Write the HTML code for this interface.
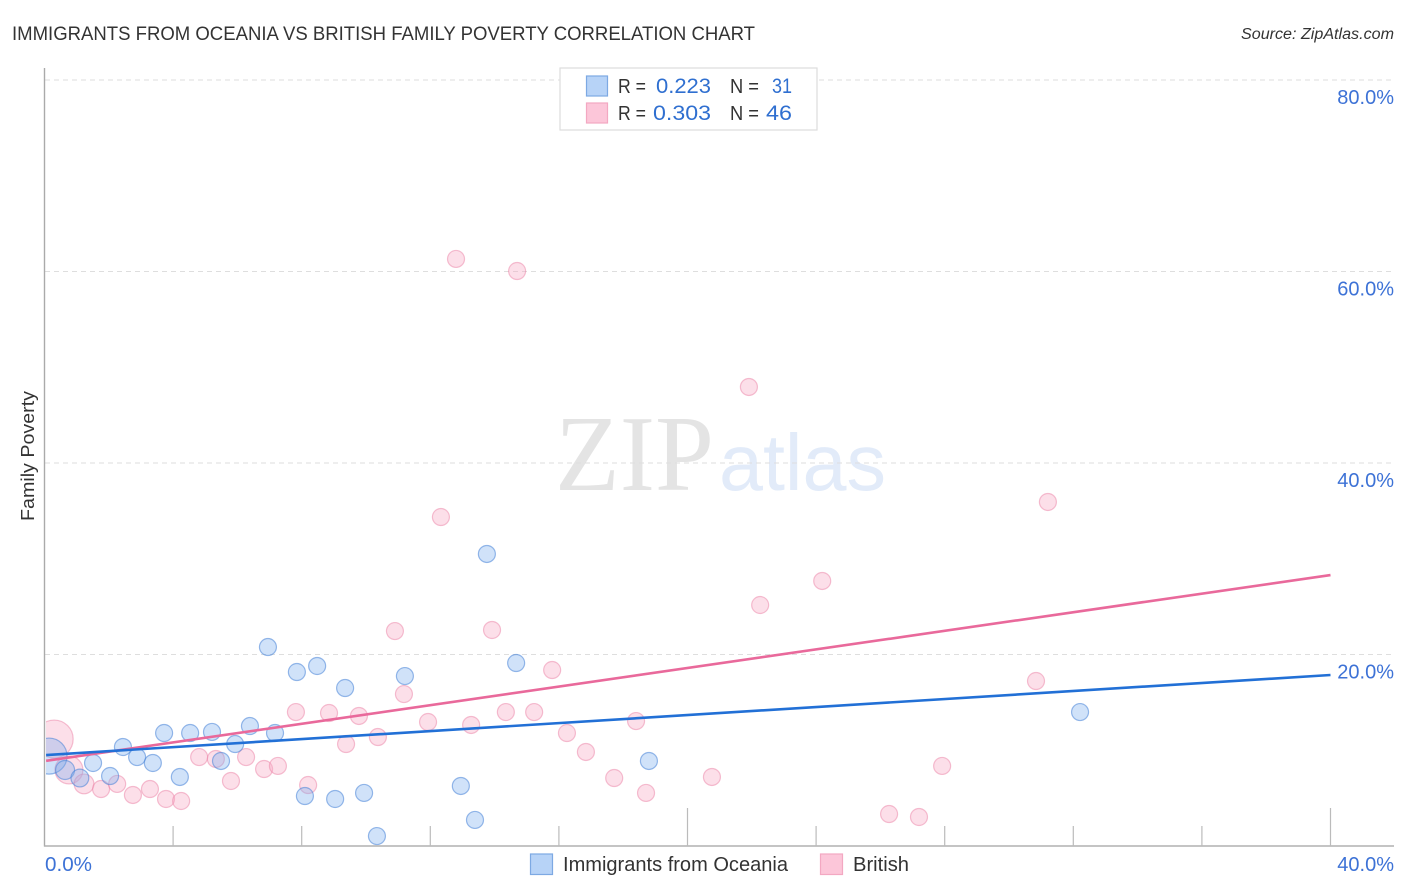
<!DOCTYPE html>
<html lang="en">
<head>
<meta charset="utf-8">
<title>Immigrants from Oceania vs British Family Poverty Correlation Chart</title>
<style>
html,body{margin:0;padding:0;background:#fff;}
svg{display:block;font-family:"Liberation Sans",sans-serif;}
</style>
</head>
<body>
<svg id="chart" xmlns="http://www.w3.org/2000/svg" width="1406" height="892" viewBox="0 0 1406 892">
  <rect x="0" y="0" width="1406" height="892" fill="#ffffff"></rect>
  <text x="12" y="40" font-size="19.5" fill="#333333" textLength="743" lengthAdjust="spacingAndGlyphs">IMMIGRANTS FROM OCEANIA VS BRITISH FAMILY POVERTY CORRELATION CHART</text>
  <text x="1241" y="39" font-size="15.5" font-style="italic" fill="#333333" textLength="153" lengthAdjust="spacingAndGlyphs">Source: ZipAtlas.com</text>
  <text transform="translate(34 521) rotate(-90)" font-size="18.5" fill="#333333" textLength="130" lengthAdjust="spacingAndGlyphs">Family Poverty</text>

  <g>
    <text x="555" y="490" font-family="'Liberation Serif',serif" font-size="108" fill="#e4e4e4" textLength="159" lengthAdjust="spacingAndGlyphs">ZIP</text>
    <text x="719" y="490" font-size="80" fill="#e2ebf9" textLength="167" lengthAdjust="spacingAndGlyphs">atlas</text>
  </g>

  <g id="grid"></g>
  <g id="pink-points"></g>
  <g id="blue-points"></g>
  <rect x="24" y="700" width="22" height="100" fill="#ffffff"></rect>
  <g id="axes"></g>
  <g id="trends"></g>
  <g id="tick-labels"></g>

  <g>
    <rect x="560" y="68" width="257" height="62" fill="#ffffff" stroke="#dddddd" stroke-width="1.2"></rect>
    <rect x="586.5" y="76" width="21" height="20" fill="#b7d3f7" stroke="#7da9e3" stroke-width="1.2"></rect>
    <rect x="586.5" y="103" width="21" height="20" fill="#fcc6d9" stroke="#f3a8c2" stroke-width="1.2"></rect>
    <text x="618" y="93" font-size="20" fill="#333333" textLength="28" lengthAdjust="spacingAndGlyphs">R =</text>
    <text x="656" y="93" font-size="21" fill="#2f6fd0" textLength="55" lengthAdjust="spacingAndGlyphs">0.223</text>
    <text x="730" y="93" font-size="20" fill="#333333" textLength="29" lengthAdjust="spacingAndGlyphs">N =</text>
    <text x="772" y="93" font-size="21" fill="#2f6fd0" textLength="20" lengthAdjust="spacingAndGlyphs">31</text>
    <text x="618" y="120" font-size="20" fill="#333333" textLength="28" lengthAdjust="spacingAndGlyphs">R =</text>
    <text x="653" y="120" font-size="21" fill="#2f6fd0" textLength="58" lengthAdjust="spacingAndGlyphs">0.303</text>
    <text x="730" y="120" font-size="20" fill="#333333" textLength="29" lengthAdjust="spacingAndGlyphs">N =</text>
    <text x="766" y="120" font-size="21" fill="#2f6fd0" textLength="26" lengthAdjust="spacingAndGlyphs">46</text>
  </g>

  <g>
    <g>
      <rect x="530.5" y="854" width="22" height="20.5" fill="#b7d3f7" stroke="#7da9e3" stroke-width="1.2"></rect>
      <text x="563" y="871" font-size="20" fill="#333333" textLength="225" lengthAdjust="spacingAndGlyphs">Immigrants from Oceania</text>
    </g>
    <g>
      <rect x="820.5" y="854" width="22" height="20.5" fill="#fcc6d9" stroke="#f3a8c2" stroke-width="1.2"></rect>
      <text x="853" y="871" font-size="20" fill="#333333" textLength="56" lengthAdjust="spacingAndGlyphs">British</text>
    </g>
  </g>
</svg>
<script>
// Chart data (percent units)
const yTicks = [20, 40, 60, 80];
const yTickLabels = ["20.0%", "40.0%", "60.0%", "80.0%"];
const xTicks = [4, 8, 12, 16, 20, 24, 28, 32, 36, 40];
const xMajorTicks = [20, 40];
const xEdgeTicks = [0, 40];
const xEdgeLabels = ["0.0%", "40.0%"];

const oceaniaX = [0.14,0.64,1.10,1.51,2.04,2.44,2.88,3.37,3.72,4.21,4.53,5.21,5.49,5.93,6.39,6.95,7.17,7.85,8.10,8.48,9.04,9.35,9.94,10.34,11.21,12.95,13.39,13.76,14.67,18.80,32.21];
const oceaniaY = [9.39,7.94,7.10,8.67,7.31,10.34,9.29,8.67,11.80,7.21,11.80,11.91,8.88,10.65,12.53,20.78,11.80,18.17,5.22,18.80,4.91,16.50,5.54,1.04,17.75,6.27,2.72,30.50,19.11,8.88,13.99];
const oceaniaWeight = [4.5,1.25,1.1,1,1,1,1,1,1,1,1,1,1,1,1,1,1,1,1,1,1,1,1,1,1,1,1,1,1,1,1];

const britishX = [0.30,0.76,1.23,1.76,2.26,2.75,3.28,3.78,4.25,4.81,5.33,5.80,6.27,6.83,7.26,7.82,8.20,8.85,9.38,9.78,10.37,10.90,11.18,11.93,12.33,12.80,13.27,13.92,14.35,14.70,15.23,15.79,16.25,16.84,17.72,18.40,18.71,20.76,21.91,22.26,24.19,26.27,27.20,27.92,30.84,31.21];
const britishY = [11.17,7.94,6.48,5.95,6.48,5.33,5.95,4.91,4.70,9.29,9.09,6.79,9.29,8.04,8.36,13.99,6.37,13.89,10.65,13.58,11.38,22.45,15.87,12.95,34.36,61.31,12.64,22.56,13.99,60.05,13.99,18.38,11.80,9.82,7.10,13.05,5.54,7.21,47.94,25.17,27.68,3.34,3.03,8.36,17.23,35.93];
const britishWeight = [5,2.7,1.35,1,1,1,1,1,1,1,1,1,1,1,1,1,1,1,1,1,1,1,1,1,1,1,1,1,1,1,1,1,1,1,1,1,1,1,1,1,1,1,1,1,1,1];

const trendX = [0.05, 40];
const oceaniaTrend = [9.5, 17.86];
const britishTrend = [8.9, 28.3];

// Axis functions
function xScale(v){ return 44.5 + v * 32.15; }
function yScale(v){ return 846 - v * 9.575; }
function radius(w){ return 8.5 * Math.sqrt(w); }

const NS = "http://www.w3.org/2000/svg";
function make(parent, tag, attrs, text){
  const el = document.createElementNS(NS, tag);
  for (const k in attrs) el.setAttribute(k, attrs[k]);
  if (text !== undefined) el.textContent = text;
  document.getElementById(parent).appendChild(el);
  return el;
}

// Gridlines and y tick labels
yTicks.forEach(function(t, i){
  const line = make("grid", "line", {x1:45, x2:1394, y1:yScale(t), y2:yScale(t), stroke:"#dedede", "stroke-width":1, "stroke-dasharray":"5 4"});
  
  
  const lab = make("tick-labels", "text", {x:1394, y:yScale(t)+24, "text-anchor":"end", "font-size":20, fill:"#3d72d6"}, yTickLabels[i]);
  
  
});

// Axes
const yAxis = make("axes", "line", {x1:44.5, x2:44.5, y1:68, y2:846.5, stroke:"#aaaaaa", "stroke-width":1.4});


const xAxis = make("axes", "line", {x1:44, x2:1394, y1:846, y2:846, stroke:"#b0b0b0", "stroke-width":1.4});


xTicks.forEach(function(t){
  const top = xMajorTicks.indexOf(t) >= 0 ? 808 : 826;
  const tick = make("axes", "line", {x1:xScale(t), x2:xScale(t), y1:top, y2:846, stroke:"#bbbbbb", "stroke-width":1.2});
  
  
});
xEdgeTicks.forEach(function(t, i){
  const attrs = {y:871, "font-size":20, fill:"#3d72d6"};
  if (i === 0) { attrs.x = xScale(t) + 0.5; attrs.textLength = 47; attrs.lengthAdjust = "spacingAndGlyphs"; } else { attrs.x = 1394; attrs["text-anchor"] = "end"; }
  const lab = make("tick-labels", "text", attrs, xEdgeLabels[i]);
  
  
});

// Points
britishX.forEach(function(v, i){
  const c = make("pink-points", "circle", {cx:xScale(v), cy:yScale(britishY[i]), r:radius(britishWeight[i]), fill:"rgba(248,170,196,0.38)", stroke:"rgba(236,130,165,0.5)", "stroke-width":1.2});
  
  
});
oceaniaX.forEach(function(v, i){
  const c = make("blue-points", "circle", {cx:xScale(v), cy:yScale(oceaniaY[i]), r:radius(oceaniaWeight[i]), fill:"rgba(125,175,238,0.36)", stroke:"rgba(70,130,215,0.55)", "stroke-width":1.2});
  
  
});

// Trend lines
const pinkLine = make("trends", "line", {x1:xScale(trendX[0]), x2:xScale(trendX[1]), y1:yScale(britishTrend[0]), y2:yScale(britishTrend[1]), stroke:"#e9699b", "stroke-width":2.6});


const blueLine = make("trends", "line", {x1:xScale(trendX[0]), x2:xScale(trendX[1]), y1:yScale(oceaniaTrend[0]), y2:yScale(oceaniaTrend[1]), stroke:"#2270d6", "stroke-width":2.6});


</script>
</body>
</html>
